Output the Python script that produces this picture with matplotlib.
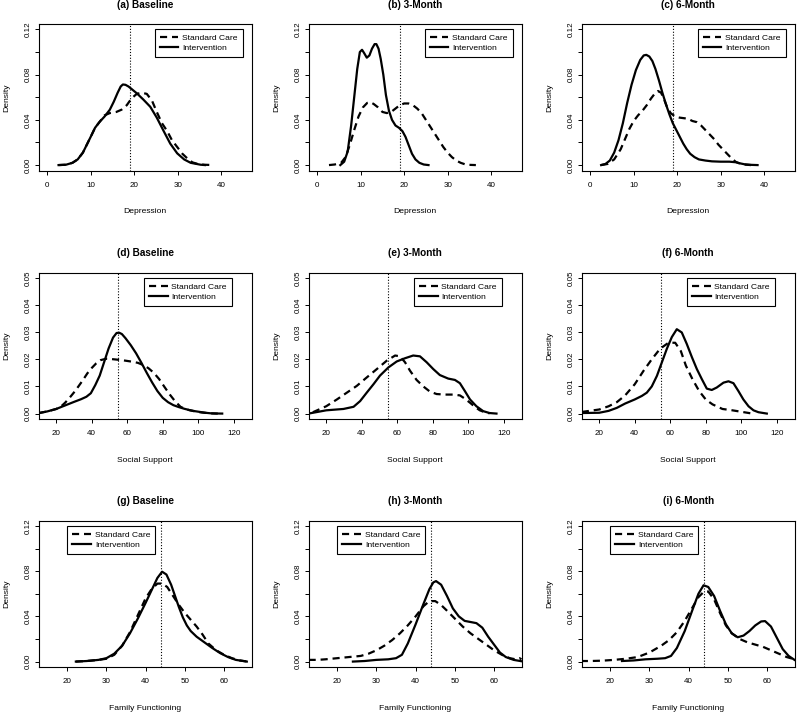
import matplotlib
matplotlib.use("Agg")
import matplotlib.pyplot as plt

# ---- data (density estimates) ----
# row 1: Depression
a_sc_x = [2.6, 4.3, 5.8, 7, 8.2, 9.1, 10, 11, 12, 13.2, 14.4, 15.9, 17.1, 18.3, 19.4, 20.6, 21.7, 22.9, 24.1, 25.2,
          26.4, 27.6, 28.7, 29.9, 31.1, 32.2, 33.4, 34.6, 36.1, 38.4]
a_sc_y = [0, 0.0003, 0.002, 0.005, 0.011, 0.018, 0.025, 0.033, 0.038, 0.044, 0.046, 0.047, 0.049, 0.053, 0.059, 0.063,
          0.064, 0.063, 0.057, 0.047, 0.037, 0.03, 0.022, 0.016, 0.01, 0.006, 0.0024, 0.001, 0.0003, 0]
a_int_x = [2.6, 4.3, 5.8, 7, 8.2, 9.1, 10, 11, 12, 13.2, 14.4, 15.3, 16.2, 16.9, 17.4, 18, 18.7, 19.5, 20.6, 22.1,
           23.7, 25.2, 26.8, 28.3, 29.9, 31.5, 33, 35.3, 36.3]
a_int_y = [0, 0.0003, 0.002, 0.005, 0.011, 0.018, 0.025, 0.033, 0.038, 0.043, 0.049, 0.056, 0.064, 0.0695, 0.0713,
           0.071, 0.0695, 0.067, 0.0635, 0.058, 0.0516, 0.042, 0.03, 0.019, 0.0104, 0.005, 0.002, 0.0003, 0]

b_sc_x = [2.7, 4, 5.5, 6.5, 7.5, 8.5, 9.5, 10.5, 11.5, 12.3, 13, 14, 15, 16, 17, 18, 19, 20, 21, 22, 23, 24, 25,
          26, 27, 28, 29, 30, 31, 32, 33, 34, 35, 36.5]
b_sc_y = [0, 0.0005, 0.002, 0.007, 0.018, 0.031, 0.043, 0.051, 0.055, 0.0555, 0.054, 0.051, 0.047, 0.046, 0.047,
          0.05, 0.053, 0.0545, 0.0545, 0.053, 0.05, 0.046, 0.04, 0.034, 0.028, 0.022, 0.016, 0.011, 0.007, 0.004,
          0.002, 0.0007, 0.0002, 0]
b_int_x = [5.3, 6.2, 7, 7.8, 8.5, 9.2, 9.8, 10.3, 10.8, 11.4, 12, 12.6, 13.2, 13.6, 14.1, 14.6, 15.2, 15.8, 16.5,
           17.2, 18, 18.8, 19.6, 20.3, 21, 21.8, 22.6, 23.5, 24.5, 25.6]
b_int_y = [0, 0.003, 0.012, 0.035, 0.06, 0.085, 0.1, 0.102, 0.099, 0.095, 0.097, 0.103, 0.107, 0.107, 0.103, 0.094,
           0.08, 0.062, 0.048, 0.04, 0.035, 0.033, 0.03, 0.025, 0.018, 0.01, 0.005, 0.002, 0.0005, 0]

c_sc_x = [2.5, 4, 5.5, 7, 8, 9, 10, 11, 12, 13, 14, 15, 15.6, 16.3, 17, 17.7, 18.5, 19.5, 20.5, 21.5, 22.5, 23.5,
          24.5, 25.5, 26.5, 27.5, 28.5, 29.5, 30.5, 31.5, 32.5, 33.5, 34.5, 35.5, 37]
c_sc_y = [0, 0.001, 0.005, 0.014, 0.023, 0.032, 0.039, 0.044, 0.048, 0.053, 0.059, 0.064, 0.0655, 0.064, 0.058,
          0.051, 0.046, 0.043, 0.042, 0.0415, 0.041, 0.039, 0.038, 0.035, 0.031, 0.027, 0.023, 0.018, 0.014, 0.01,
          0.006, 0.0028, 0.0012, 0.0004, 0]
c_int_x = [2.5, 3.5, 4.5, 5.5, 6.5, 7.5, 8.5, 9.5, 10.5, 11.5, 12.3, 12.9, 13.6, 14.3, 15, 15.8, 16.6, 17.4, 18.2,
           19, 19.8, 20.6, 21.4, 22.2, 23, 24, 25, 26.5, 28, 30, 32, 33.5, 34.5, 35.5, 37, 38.5]
c_int_y = [0, 0.001, 0.004, 0.011, 0.022, 0.037, 0.055, 0.071, 0.084, 0.093, 0.097, 0.0975, 0.096, 0.092, 0.085,
           0.075, 0.064, 0.054, 0.045, 0.037, 0.031, 0.025, 0.019, 0.014, 0.01, 0.007, 0.005, 0.004, 0.0033, 0.003,
           0.003, 0.0025, 0.0015, 0.0007, 0.0002, 0]

# row 2: Social Support
d_sc_x = [10.3, 15, 20, 22.5, 25, 27.5, 30, 32.5, 35, 37.5, 40, 42.5, 45, 48, 51, 54, 57, 60, 63, 66, 69, 72, 75,
          78, 81, 84, 87, 90, 93, 96, 99, 102, 105, 108, 111]
d_sc_y = [0.0002, 0.0008, 0.0017, 0.0025, 0.004, 0.0058, 0.0078, 0.01, 0.0123, 0.0148, 0.0168, 0.0185, 0.0197,
          0.0202, 0.0201, 0.0199, 0.0197, 0.0194, 0.0191, 0.0187, 0.0179, 0.0167, 0.015, 0.0127, 0.0098, 0.007,
          0.0045, 0.0025, 0.0016, 0.0011, 0.0007, 0.0004, 0.0002, 0.00005, 0]
d_int_x = [10.3, 15, 20, 25, 30, 34, 37, 39.5, 42, 44.5, 47, 49.5, 52, 54, 55.5, 57, 59, 62, 65, 68, 71, 74, 77,
           80, 83, 86, 89, 92, 95, 98, 101, 104, 107, 110, 113.5]
d_int_y = [0.0002, 0.0008, 0.0017, 0.003, 0.0043, 0.0053, 0.0062, 0.0075, 0.0105, 0.014, 0.019, 0.024, 0.028,
           0.0297, 0.0298, 0.0293, 0.0278, 0.0252, 0.0222, 0.0187, 0.015, 0.0115, 0.0083, 0.0058, 0.0042, 0.0031,
           0.0024, 0.0018, 0.0013, 0.0009, 0.0006, 0.0003, 0.0001, 0.00003, 0]

e_sc_x = [12.5, 20, 26, 31.6, 37.2, 42.8, 48.5, 54.1, 58.8, 61.6, 64.4, 67.2, 70.9, 74.7, 78.4, 82.2, 86.9, 91.5,
          95.3, 98.1, 101, 103.7, 106.5, 109.3, 112]
e_sc_y = [0.0005, 0.0027, 0.0052, 0.0077, 0.0102, 0.0133, 0.0164, 0.0195, 0.0214, 0.0211, 0.0189, 0.0158, 0.0124,
          0.01, 0.0081, 0.0072, 0.007, 0.007, 0.0067, 0.0055, 0.004, 0.0025, 0.0012, 0.0005, 0.0001]
e_int_x = [10.1, 20, 29.7, 35.4, 39.1, 42.8, 46.6, 50.3, 55, 59.7, 64.4, 69, 72.8, 76.6, 80.3, 84, 88.7, 92.5,
           95.3, 98.1, 101, 104.6, 108.4, 112, 115.9]
e_int_y = [0, 0.0012, 0.0017, 0.0025, 0.0046, 0.0077, 0.0108, 0.014, 0.017, 0.0192, 0.0204, 0.0214, 0.0211, 0.0189,
           0.0164, 0.0142, 0.0129, 0.0124, 0.0112, 0.0083, 0.0052, 0.0027, 0.0009, 0.0002, 0]

f_sc_x = [10.2, 20, 25.3, 29.9, 34.6, 40, 45, 49.6, 54.3, 59, 62.8, 66, 68.8, 72.5, 76.3, 80, 83.8, 89.4, 95,
          100.6, 105.3]
f_sc_y = [0.0006, 0.0015, 0.0027, 0.0042, 0.0067, 0.0108, 0.0158, 0.02, 0.0239, 0.0261, 0.0261, 0.023, 0.0177,
          0.0127, 0.0083, 0.0052, 0.0034, 0.0017, 0.0012, 0.0006, 0.0001]
f_int_x = [10.2, 20, 25.3, 29.9, 34.6, 40, 44, 46.8, 49.6, 52.5, 55.3, 58.1, 60.9, 63.7, 66.5, 69.3, 72.2, 75,
           77.8, 80.6, 83.4, 86.2, 90, 92.8, 95.6, 98.4, 101.2, 104.1, 106.9, 109.7, 114.4]
f_int_y = [0.0002, 0.0003, 0.001, 0.0021, 0.0037, 0.0052, 0.0065, 0.0077, 0.01, 0.0139, 0.0189, 0.0239, 0.0282,
           0.0311, 0.0299, 0.0257, 0.0208, 0.0164, 0.0127, 0.0092, 0.0087, 0.0096, 0.0114, 0.0119, 0.0112, 0.0083,
           0.0052, 0.0027, 0.0012, 0.0005, 0]

# row 3: Family Functioning
g_sc_x = [22.2, 25, 28, 30, 32, 34, 36, 38, 40, 41.5, 43, 44.2, 45.5, 47, 48.5, 50, 51.5, 53, 54.5, 56, 58, 60,
          62, 64, 66]
g_sc_y = [0, 0.0005, 0.0015, 0.0025, 0.006, 0.014, 0.026, 0.041, 0.056, 0.064, 0.069, 0.069, 0.066, 0.058, 0.05,
          0.043, 0.037, 0.031, 0.024, 0.016, 0.01, 0.006, 0.003, 0.001, 0]
g_int_x = [22.2, 25, 28, 30, 32, 34, 36, 38, 40, 41.5, 43, 44.2, 45.3, 46.5, 47.5, 48.5, 49.5, 50.5, 51.5, 53, 55,
           57, 59, 61, 63, 65.8]
g_int_y = [0, 0.0005, 0.0015, 0.003, 0.007, 0.014, 0.025, 0.038, 0.052, 0.063, 0.074, 0.0795, 0.077, 0.068, 0.058,
           0.048, 0.039, 0.032, 0.027, 0.022, 0.017, 0.012, 0.0075, 0.004, 0.0015, 0]

h_sc_x = [12.7, 15, 17, 20, 23, 26, 28, 30, 32, 34, 36, 38, 40, 42, 43.5, 45, 46.5, 48, 50, 52, 54, 56, 58, 60, 62,
          64, 65.5, 66.5, 67]
h_sc_y = [0.0015, 0.0015, 0.002, 0.003, 0.004, 0.005, 0.007, 0.01, 0.014, 0.019, 0.025, 0.032, 0.04, 0.049, 0.0535,
          0.0535, 0.05, 0.045, 0.038, 0.031, 0.025, 0.02, 0.015, 0.01, 0.006, 0.003, 0.002, 0.003, 0.002]
h_int_x = [24, 27, 30, 33, 35, 36.5, 38, 40, 42, 43.5, 44.5, 45.2, 46.5, 48, 49.5, 51, 52.5, 54, 55.5, 57, 58.5, 60,
           61.5, 63, 65, 67]
h_int_y = [0, 0.0005, 0.0015, 0.002, 0.003, 0.006, 0.016, 0.033, 0.051, 0.064, 0.07, 0.0712, 0.068, 0.058, 0.047,
           0.04, 0.036, 0.035, 0.034, 0.03, 0.022, 0.015, 0.008, 0.004, 0.0015, 0.0003]

i_sc_x = [12.5, 15, 18, 21, 24, 27, 30, 33, 35, 37, 39, 41, 42.5, 43.8, 45, 46.5, 48, 49.5, 51, 53, 55, 57, 59, 61,
          63, 65, 67]
i_sc_y = [0.0005, 0.0005, 0.0008, 0.0015, 0.0025, 0.004, 0.008, 0.014, 0.019, 0.026, 0.036, 0.048, 0.057, 0.0615,
          0.062, 0.055, 0.043, 0.032, 0.025, 0.02, 0.017, 0.015, 0.013, 0.01, 0.007, 0.004, 0.002]
i_int_x = [23, 26, 29, 32, 34, 35.5, 37, 39, 41, 42.5, 43.8, 45, 46.5, 48, 49.5, 51, 52.5, 54, 55.5, 57, 58.5, 59.5,
           61, 62.5, 64, 65.5, 67]
i_int_y = [0.0005, 0.001, 0.002, 0.0025, 0.003, 0.005, 0.012, 0.027, 0.046, 0.06, 0.0675, 0.066, 0.058, 0.045,
           0.033, 0.025, 0.0215, 0.023, 0.027, 0.032, 0.0355, 0.0358, 0.031, 0.021, 0.011, 0.005, 0.0015]

titles = ["(a) Baseline", "(b) 3-Month", "(c) 6-Month",
          "(d) Baseline", "(e) 3-Month", "(f) 6-Month",
          "(g) Baseline", "(h) 3-Month", "(i) 6-Month"]
row_xlabels = ["Depression", "Social Support", "Family Functioning"]
row_cutoffs = [19, 55, 44]
row_xticks = [[0, 10, 20, 30, 40], [20, 40, 60, 80, 100, 120], [20, 30, 40, 50, 60]]
row_yticks = [[0, 0.02, 0.04, 0.06, 0.08, 0.10, 0.12],
              [0, 0.01, 0.02, 0.03, 0.04, 0.05],
              [0, 0.02, 0.04, 0.06, 0.08, 0.10, 0.12]]
row_yticklabels = [["0.00", "", "0.04", "", "0.08", "", "0.12"],
                   ["0.00", "0.01", "0.02", "0.03", "0.04", "0.05"],
                   ["0.00", "", "0.04", "", "0.08", "", "0.12"]]
legend_labels = ["Standard Care", "Intervention"]

sc_series = [(a_sc_x, a_sc_y), (b_sc_x, b_sc_y), (c_sc_x, c_sc_y),
             (d_sc_x, d_sc_y), (e_sc_x, e_sc_y), (f_sc_x, f_sc_y),
             (g_sc_x, g_sc_y), (h_sc_x, h_sc_y), (i_sc_x, i_sc_y)]
int_series = [(a_int_x, a_int_y), (b_int_x, b_int_y), (c_int_x, c_int_y),
              (d_int_x, d_int_y), (e_int_x, e_int_y), (f_int_x, f_int_y),
              (g_int_x, g_int_y), (h_int_x, h_int_y), (i_int_x, i_int_y)]

# ---- layout (R-like look) ----
plt.rcParams["font.family"] = ["Liberation Sans", "DejaVu Sans"]
W, H = 800, 714
fig = plt.figure(figsize=(W / 100, H / 100), dpi=100)

col_left = [39, 309, 582]
row_top = [24, 272.5, 520.5]
ax_w, ax_h = 212.5, 146.5
row_xlim = [(-1.9, 47.0), (10.3, 130.0), (12.8, 67.0)]
row_ylim = [(-0.0048, 0.1248), (-0.002, 0.052), (-0.0048, 0.1248)]
leg_anchor = [(45, 0.12, "upper right"), (119, 0.05, "upper right"), (20, 0.12, "upper left")]

for k in range(9):
    r, c = divmod(k, 3)
    ax = fig.add_axes([col_left[c] / W, 1 - (row_top[r] + ax_h) / H, ax_w / W, ax_h / H])
    sx, sy = sc_series[k]
    ix, iy = int_series[k]
    l1, = ax.plot(sx, sy, color="black", lw=1.6, linestyle=(0, (3.2, 2.2)), solid_capstyle="butt")
    l2, = ax.plot(ix, iy, color="black", lw=1.6, solid_joinstyle="round")
    ax.axvline(row_cutoffs[r], color="black", lw=0.8, linestyle=(0, (1, 1.6)))

    ax.set_xlim(*row_xlim[r])
    ax.set_ylim(*row_ylim[r])
    ax.set_xticks(row_xticks[r])
    ax.set_yticks(row_yticks[r])
    ax.set_yticklabels(row_yticklabels[r])
    ax.tick_params(axis="both", direction="out", length=3, width=0.7, labelsize=5.8)
    ax.tick_params(axis="x", pad=5)
    ax.tick_params(axis="y", pad=2.5, labelrotation=90)
    for lbl in ax.get_yticklabels():
        lbl.set_va("center")
    for sp in ax.spines.values():
        sp.set_linewidth(0.8)

    ax.set_xlabel(row_xlabels[r], fontsize=6.1)
    ax.xaxis.set_label_coords(0.5, -41 / ax_h)
    ax.xaxis.label.set_va("center")
    ax.set_ylabel("Density", fontsize=6.1)
    ax.yaxis.set_label_coords(-32 / ax_w, 0.5)
    ax.yaxis.label.set_va("center")

    ax.set_title(titles[k], fontsize=7.2, fontweight="bold", y=1 + 19 / ax_h, va="center", pad=0)

    lx, ly, lloc = leg_anchor[r]
    leg = ax.legend([l1, l2], legend_labels, loc=lloc, bbox_to_anchor=(lx, ly),
                    bbox_transform=ax.transData, borderaxespad=0, fontsize=6.1,
                    handlelength=2.2, handletextpad=0.45, borderpad=0.6, labelspacing=0.2,
                    fancybox=False, framealpha=1, edgecolor="black")
    leg.get_frame().set_linewidth(0.8)

fig.savefig("out.png", dpi=100)
